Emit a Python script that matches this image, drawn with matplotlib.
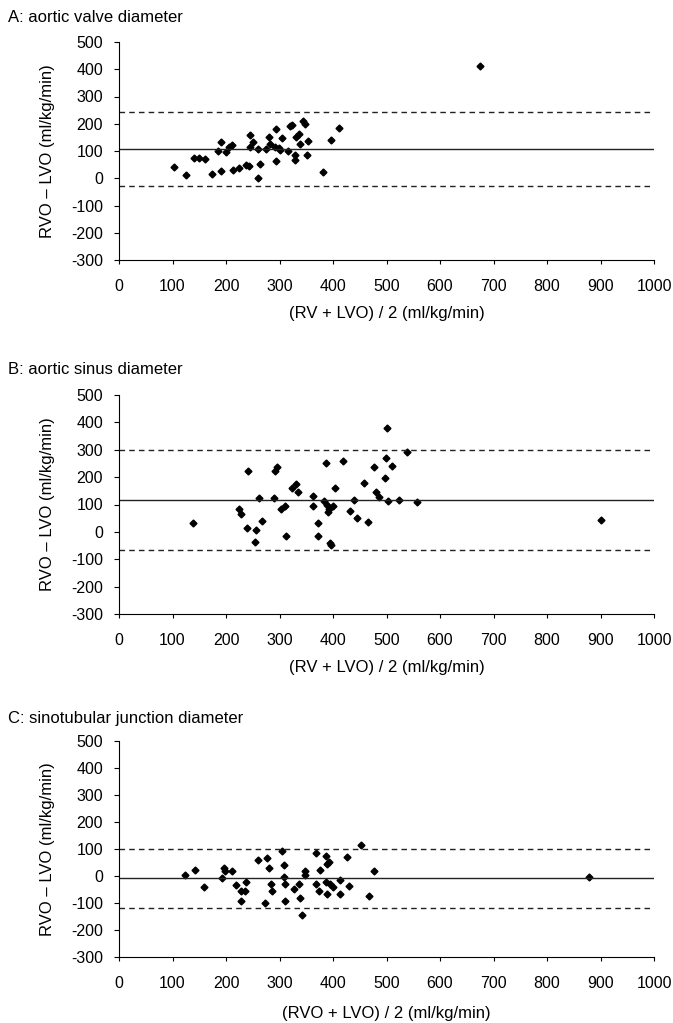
import numpy as np
import matplotlib
matplotlib.use("Agg")
import matplotlib.pyplot as plt

plt.rcParams['font.family'] = ['Liberation Sans', 'DejaVu Sans']
plt.rcParams['axes.unicode_minus'] = False

# panel A: aortic valve diameter
a_mean = [102, 126, 141, 150, 161, 173, 185, 190, 190, 200, 205, 211, 213, 225, 238, 243,
          244, 245, 251, 259, 260, 263, 275, 280, 283, 291, 293, 293, 299, 300, 305, 316,
          320, 323, 329, 329, 331, 336, 339, 343, 348, 353, 352, 381, 396, 411, 675]
a_diff = [42, 11, 73, 73, 70, 16, 99, 133, 27, 97, 115, 121, 32, 38, 50, 45,
          158, 115, 133, 106, 2, 54, 109, 152, 125, 115, 182, 64, 111, 103, 149, 99,
          193, 194, 84, 66, 152, 164, 125, 210, 198, 136, 84, 23, 142, 186, 411]
a_lines = [106, 243, -29]   # bias, upper limit, lower limit

# panel B: aortic sinus diameter
b_mean = [138, 225, 228, 240, 241, 256, 255, 262, 268, 290, 291, 295, 303, 311, 313, 324,
          330, 334, 362, 362, 372, 372, 384, 387, 388, 391, 393, 395, 397, 400, 403, 418,
          431, 440, 444, 458, 466, 476, 480, 486, 498, 499, 501, 502, 511, 524, 538, 557, 901]
b_diff = [33, 83, 67, 15, 223, 6, -37, 124, 41, 124, 222, 237, 85, 94, -16, 161,
          174, 144, 132, 95, 33, -15, 112, 250, 98, 73, 85, -40, -49, 94, 159, 259,
          78, 116, 51, 180, 37, 237, 146, 128, 195, 271, 378, 113, 241, 117, 293, 110, 43]
b_lines = [118, 299, -65]

# panel C: sinotubular junction diameter
c_mean = [124, 142, 158, 193, 196, 198, 211, 218, 228, 228, 236, 237, 259, 272, 277, 280,
          284, 286, 305, 309, 309, 311, 311, 328, 336, 338, 342, 348, 348, 368, 368, 373,
          376, 387, 387, 389, 389, 393, 394, 400, 413, 413, 427, 429, 452, 467, 476, 878]
c_diff = [4, 24, -41, -7, 28, 18, 20, -32, -55, -92, -57, -23, 61, -100, 66, 28,
          -29, -57, 91, 39, -2, -31, -91, -50, -29, -83, -146, 18, 5, 87, -29, -54,
          21, 75, -22, -66, 46, 50, -29, -40, -16, -66, 71, -37, 116, -73, 18, -3]
c_lines = [-8, 101, -120]

titles = ["A: aortic valve diameter", "B: aortic sinus diameter",
          "C: sinotubular junction diameter"]
xlabels = ["(RV + LVO) / 2 (ml/kg/min)", "(RV + LVO) / 2 (ml/kg/min)",
           "(RVO + LVO) / 2 (ml/kg/min)"]
ylabel = "RVO \u2013 LVO (ml/kg/min)"

panels = [(a_mean, a_diff, a_lines), (b_mean, b_diff, b_lines), (c_mean, c_diff, c_lines)]

fig = plt.figure(figsize=(6.73, 10.23), dpi=100)
W, H = 673, 1023
# axes boxes in pixels: (top, bottom) and title y
boxes = [(42, 260, 17), (395, 614, 370), (741, 957, 718)]
xlab_off = [-0.21, -0.21, -0.227]
left, right = 119, 654

for i, (xs, ys, lines) in enumerate(panels):
    top, bot, ty = boxes[i]
    ax = fig.add_axes([left / W, 1 - bot / H, (right - left) / W, (bot - top) / H])
    ax.plot(xs, ys, linestyle='none', marker='D', markersize=3.5, color='black')
    ax.axhline(lines[0], color='#222222', linewidth=1.0)
    ax.axhline(lines[1], color='#222222', linewidth=1.0, dashes=(4, 3))
    ax.axhline(lines[2], color='#222222', linewidth=1.0, dashes=(4, 3))
    ax.set_xlim(0, 1000)
    ax.set_ylim(-300, 500)
    ax.set_xticks(np.arange(0, 1001, 100))
    ax.set_yticks(np.arange(-300, 501, 100))
    ax.spines['top'].set_visible(False)
    ax.spines['right'].set_visible(False)
    ax.tick_params(axis='x', direction='out', length=3, pad=11, labelsize=11.5)
    ax.tick_params(axis='y', direction='out', length=3.5, pad=8, labelsize=11.5)
    ax.set_xlabel(xlabels[i], fontsize=12)
    ax.set_ylabel(ylabel, fontsize=12)
    ax.xaxis.set_label_coords(0.5, xlab_off[i])
    ax.yaxis.set_label_coords(-0.12, 0.5)
    fig.text(8 / W, 1 - ty / H, titles[i], fontsize=12, va='center', ha='left')

fig.savefig("out.png", dpi=100)
